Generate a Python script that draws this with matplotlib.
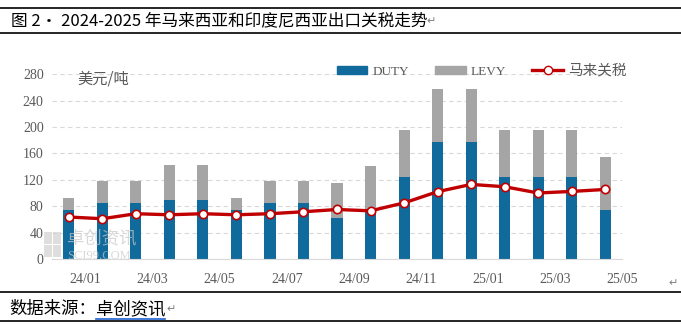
import numpy as np
import matplotlib
matplotlib.use("Agg")
import matplotlib.pyplot as plt
from matplotlib.lines import Line2D
from matplotlib.patches import Rectangle

plt.rcParams['font.family'] = ['Noto Sans CJK SC', 'DejaVu Sans']

# 2024-2025 export tariffs, USD/ton
months = ['23/12', '24/01', '24/02', '24/03', '24/04', '24/05', '24/06', '24/07', '24/08',
          '24/09', '24/10', '24/11', '24/12', '25/01', '25/02', '25/03', '25/04']
duty = [74, 85, 85, 90, 90, 74, 85, 85, 62, 74, 124, 178, 178, 124, 124, 124, 74]
levy = [18, 33, 33, 53, 53, 18, 33, 33, 53, 67, 72, 80, 80, 72, 72, 72, 80]
malaysia = [63.6, 61, 68.6, 67, 68.6, 67, 68.6, 71.6, 75, 73, 85, 102, 113, 109.5, 100, 102.4, 105.4]
tick_labels = ['24/01', '24/03', '24/05', '24/07', '24/09', '24/11', '25/01', '25/03', '25/05']

BLUE = '#106A9C'
GRAY = '#A5A5A5'
RED = '#C00000'
TXT = '#595959'

fig = plt.figure(figsize=(6.81, 3.27), dpi=100)
ax = fig.add_axes([0.0764, 0.208, 0.837, 0.565])

x = np.arange(len(months))
ax.bar(x, duty, width=0.33, color=BLUE, zorder=2)
ax.bar(x, levy, width=0.33, bottom=duty, color=GRAY, zorder=2)
ax.plot(x, malaysia, color=RED, lw=2.4, marker='o', ms=6,
        mfc='white', mec=RED, mew=1.2, zorder=3)

ax.set_xlim(-0.5, 16.5)
ax.set_ylim(0, 280)
ax.set_yticks(range(0, 281, 40))
ax.set_xticks(np.arange(0.5, 17, 2))
ax.set_xticklabels(tick_labels)
for lab in ax.get_xticklabels() + ax.get_yticklabels():
    lab.set_fontfamily('Liberation Serif')
    lab.set_fontsize(10)
    lab.set_color(TXT)
ax.tick_params(length=0, pad=6)
ax.tick_params(axis='x', pad=10)
ax.grid(axis='y', color='#D9D9D9', ls=(0, (4, 3)), lw=0.8, zorder=0)
for s in ['top', 'right', 'left']:
    ax.spines[s].set_visible(False)
ax.spines['bottom'].set_color('#D9D9D9')

ax.text(0.045, 0.975, '美元/吨', transform=ax.transAxes, fontsize=11,
        color=TXT, va='center', ha='left')

# faint logo watermark in the lower left corner
for (lx, ly) in [(44, 232), (53, 232), (44, 245), (53, 245)]:
    fig.add_artist(Rectangle((lx / 681, 1 - (ly + 12) / 327), 8 / 681, 12 / 327,
                             color='#D0D0D0', alpha=0.7, lw=0, zorder=1))
fig.text(67 / 681, 1 - 238 / 327, '卓创资讯', fontsize=12.5, color='#C8C8C8',
         alpha=0.7, va='center', ha='left', zorder=1)
fig.text(67 / 681, 1 - 256 / 327, 'SCI99.COM', fontsize=9, color='#C8C8C8',
         alpha=0.7, va='center', ha='left', fontfamily='Liberation Serif', zorder=1)

handles = [Rectangle((0, 0), 1, 1, color=BLUE),
           Rectangle((0, 0), 1, 1, color=GRAY),
           Line2D([], [], color=RED, lw=2.4, marker='o', ms=6, mfc='white', mec=RED)]
leg = fig.legend(handles, ['DUTY', 'LEVY', '马来关税'], loc='center',
                 bbox_to_anchor=(0.707, 0.783), ncol=3, frameon=False,
                 handlelength=2.2, handleheight=0.55, columnspacing=1.9,
                 handletextpad=0.35, fontsize=10)
for t in leg.get_texts():
    t.set_color(TXT)
for t in leg.get_texts()[:2]:
    t.set_fontfamily('Liberation Serif')
    t.set_fontsize(9.5)
leg.get_texts()[2].set_fontsize(10.5)

# header and footer rules
for y in [0.9755, 0.899, 0.107, 0.018]:
    fig.add_artist(Line2D([0, 1], [y, y], color='black', lw=1.2))
fig.text(0.016, 0.936, '图 2· 2024-2025 年马来西亚和印度尼西亚出口关税走势',
         fontsize=12, fontweight='medium', va='center', ha='left')
fig.text(0.626, 0.936, '↵', fontsize=8, color='#808080', va='center', ha='left')
fig.text(0.013, 0.055, '数据来源：', fontsize=12.5, va='center', ha='left')
fig.text(0.141, 0.055, '卓创资讯', fontsize=12.5, va='center', ha='left')
fig.add_artist(Line2D([0.141, 0.243], [0.025, 0.025], color='#2060D0', lw=1.2))
fig.text(0.245, 0.055, '↵', fontsize=8, color='#808080', va='center', ha='left')
fig.text(0.982, 0.135, '↵', fontsize=8, color='#808080', va='center', ha='left')

fig.savefig('out.png', dpi=100)
